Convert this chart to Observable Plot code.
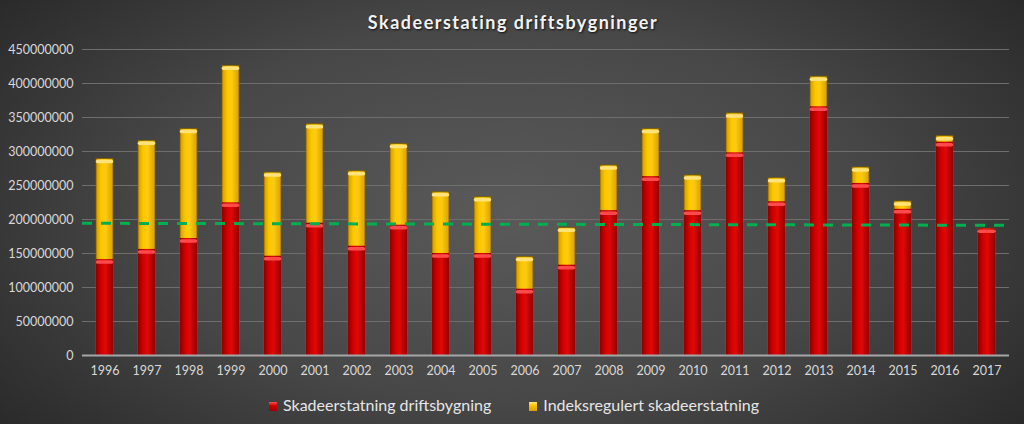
<!DOCTYPE html>
<html>
<head>
<meta charset="utf-8">
<script src="https://cdn.jsdelivr.net/npm/d3@7"></script>
<script src="https://cdn.jsdelivr.net/npm/@observablehq/plot@0.6"></script>
<style>
  html, body { margin: 0; padding: 0; }
  body {
    width: 1024px; height: 424px; overflow: hidden;
    background: radial-gradient(ellipse 70% 90% at 50% 50%, #5a5a5a 0%, #474747 50%, #2e2e2e 85%, #232323 100%);
    font-family: Lato, "Open Sans", sans-serif;
  }
  #title {
    height: 36px; line-height: 44px; text-align: center;
    color: #f2f2f2; font-weight: bold; font-size: 18px; letter-spacing: 1.5px;
    text-shadow: 1px 1px 2px #111; padding-left: 2px;
  }
  #chart svg { display: block; }
  #legend {
    height: 28px; display: flex; justify-content: center; align-items: center;
    gap: 38px; color: #e6e6e6; font-size: 16px; padding-left: 4px;
  }
  .sw { display: inline-block; width: 8px; height: 9px; margin-right: 6px; }
</style>
</head>
<body>
<div id="title">Skadeerstating driftsbygninger</div>
<div id="chart"></div>
<div id="legend">
  <span><span class="sw" style="background:linear-gradient(#ff5050,#cc0000 40%,#a00000)"></span>Skadeerstatning driftsbygning</span>
  <span><span class="sw" style="background:linear-gradient(#ffe680,#ffc000 40%,#d9a000)"></span>Indeksregulert skadeerstatning</span>
</div>
<script>
const years = ["1996","1997","1998","1999","2000","2001","2002","2003","2004","2005","2006","2007","2008","2009","2010","2011","2012","2013","2014","2015","2016","2017"];
const skadeerstatning = [141e6,156e6,172e6,224.5e6,146e6,194.5e6,160.7e6,191.6e6,150e6,150e6,97.5e6,132.8e6,213e6,263e6,213e6,298e6,226e6,365.7e6,253e6,215e6,313.7e6,186.3e6];
const indeksregulert = [289e6,315.7e6,333e6,426e6,269e6,340e6,271e6,311e6,240e6,232.8e6,145e6,187.7e6,279.4e6,333e6,264.7e6,356e6,260.7e6,410e6,276.5e6,226.5e6,322.5e6,186.3e6];
const trendEnds = [193.7e6, 190.7e6];
const yTicks = [0,50e6,100e6,150e6,200e6,250e6,300e6,350e6,400e6,450e6];

const red = years.map((y,i) => ({year: y, value: skadeerstatning[i]}));
const yellow = years.map((y,i) => ({year: y, value: indeksregulert[i]}));

const trendMark = (index, scales, values, dimensions) => {
  const g = d3.create("svg:line")
    .attr("x1", dimensions.marginLeft)
    .attr("x2", dimensions.width - dimensions.marginRight)
    .attr("y1", scales.y(trendEnds[0]))
    .attr("y2", scales.y(trendEnds[1]))
    .attr("stroke", "#00b050")
    .attr("stroke-width", 3)
    .attr("stroke-dasharray", "10,9");
  return g.node();
};

const chart = Plot.plot({
  width: 1024,
  height: 354,
  marginLeft: 82,
  marginRight: 15,
  marginTop: 13,
  marginBottom: 35,
  style: {background: "transparent", color: "#d9d9d9", fontFamily: "Lato, 'Open Sans', sans-serif", fontSize: "12.5px"},
  x: {type: "band", domain: years, paddingInner: 0.6, paddingOuter: 0.3, label: null, tickSize: 0, tickPadding: 11},
  y: {domain: [0, 450e6], ticks: yTicks, tickFormat: d3.format("d"), label: null, tickSize: 0, tickPadding: 9},
  marks: [
    Plot.ruleY(yTicks.filter(d => d > 0), {stroke: "#6e6e6e", strokeWidth: 1}),
    Plot.barY(yellow, {x: "year", y: "value", fill: "url(#yGrad)", stroke: "#7a5c00", strokeWidth: 0.8}),
    Plot.tickY(yellow, {x: "year", y: "value", stroke: "#ffe27a", strokeWidth: 3.5, dy: 2.5, insetLeft: 1.5, insetRight: 1.5, strokeLinecap: "round"}),
    Plot.barY(red, {x: "year", y: "value", fill: "url(#rGrad)"}),
    Plot.tickY(red, {x: "year", y: "value", stroke: "#ff4a4a", strokeWidth: 3.5, dy: 2.5, insetLeft: 1.5, insetRight: 1.5, strokeLinecap: "round"}),
    Plot.ruleY([0], {stroke: "#a6a6a6", strokeWidth: 2}),
    trendMark
  ]
});

const defs = d3.select(chart).insert("defs", ":first-child");
const rg = defs.append("linearGradient").attr("id", "rGrad").attr("x1", 0).attr("x2", 1).attr("y1", 0).attr("y2", 0);
[["0%","#8c0000"],["30%","#d00000"],["55%","#e00808"],["100%","#940000"]].forEach(([o,c]) => rg.append("stop").attr("offset", o).attr("stop-color", c));
const yg = defs.append("linearGradient").attr("id", "yGrad").attr("x1", 0).attr("x2", 1).attr("y1", 0).attr("y2", 0);
[["0%","#d29a00"],["30%","#ffc600"],["55%","#ffcc10"],["100%","#d9a000"]].forEach(([o,c]) => yg.append("stop").attr("offset", o).attr("stop-color", c));

document.getElementById("chart").appendChild(chart);
</script>
</body>
</html>
